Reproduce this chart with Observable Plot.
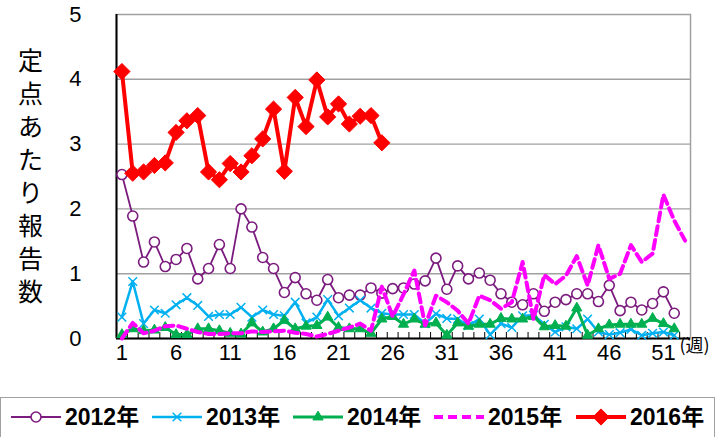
<!DOCTYPE html>
<html><head><meta charset="utf-8">
<script src="https://cdn.jsdelivr.net/npm/d3@7"></script>
<script src="https://cdn.jsdelivr.net/npm/@observablehq/plot@0.6"></script>
<style>
html,body{margin:0;padding:0;background:#fff;}
body{width:719px;height:437px;overflow:hidden;position:relative;}
#legend{position:absolute;left:0;top:397px;width:715px;height:46px;border:1px solid #a0a0a0;box-sizing:border-box;}
.item{position:absolute;top:4px;height:30px;display:flex;align-items:center;}
.item span{font-family:"Liberation Sans","Noto Sans CJK JP",sans-serif;font-weight:bold;font-size:23px;color:#000;margin-left:4px;line-height:30px;}
</style></head>
<body><div id="chart"></div><div id="legend"></div>
<script>
// ---- data ----
const seriesNames = ["2012年", "2013年", "2014年", "2015年", "2016年"];
const s2012 = [2.53,1.89,1.18,1.49,1.11,1.22,1.39,0.92,1.08,1.45,1.08,2.00,1.72,1.25,1.08,0.71,0.94,0.69,0.59,0.91,0.63,0.67,0.67,0.78,0.70,0.77,0.78,0.84,0.89,1.24,0.76,1.12,0.92,1.01,0.90,0.69,0.56,0.52,0.69,0.42,0.56,0.60,0.69,0.69,0.57,0.82,0.43,0.56,0.44,0.54,0.72,0.39];
const s2013 = [0.33,0.88,0.23,0.44,0.39,0.52,0.63,0.51,0.34,0.37,0.37,0.48,0.33,0.44,0.37,0.35,0.56,0.24,0.33,0.60,0.35,0.47,0.59,0.47,0.39,0.37,0.37,0.37,0.23,0.38,0.31,0.30,0.20,0.30,0.06,0.23,0.17,0.35,0.36,0.22,0.10,0.18,0.15,0.30,0.10,0.06,0.09,0.14,0.05,0.08,0.10,0.05];
const s2014 = [0.06,0.15,0.12,0.13,0.17,0.06,0.06,0.15,0.15,0.12,0.08,0.07,0.24,0.10,0.15,0.28,0.15,0.19,0.20,0.33,0.17,0.15,0.15,0.08,0.30,0.34,0.22,0.30,0.22,0.24,0.05,0.24,0.19,0.22,0.22,0.31,0.30,0.30,0.34,0.18,0.20,0.19,0.47,0.05,0.15,0.21,0.22,0.22,0.22,0.31,0.23,0.15];
const s2015 = [0.00,0.24,0.08,0.12,0.19,0.20,0.15,0.10,0.07,0.07,0.08,0.08,0.11,0.10,0.11,0.12,0.09,0.07,0.03,0.07,0.12,0.17,0.23,0.12,0.80,0.34,0.68,1.05,0.20,0.66,0.56,0.43,0.23,0.66,0.59,0.46,0.56,1.18,0.30,0.98,0.84,0.97,1.27,0.82,1.44,0.92,1.00,1.44,1.18,1.31,2.22,1.82,1.51];
const s2016 = [4.12,2.55,2.57,2.67,2.71,3.18,3.36,3.44,2.57,2.45,2.70,2.57,2.82,3.08,3.54,2.58,3.72,3.27,3.99,3.42,3.62,3.31,3.43,3.44,3.02];
const weekCount = 53;
const xTickLabels = [1, 6, 11, 16, 21, 26, 31, 36, 41, 46, 51];
const yTicks = [0, 1, 2, 3, 4, 5];
const yTitle = "定点あたり報告数";
const unitLabel = "(週)";

// ---- styles ----
const styles = [
  {color: "#7B1B7E", symbol: "circle", r: 5, fill: "white", sw: 1.8, dotSw: 1.6, dash: null},
  {color: "#00B0F0", symbol: "times", r: 4, fill: "none", sw: 2.5, dotSw: 1.5, dash: null},
  {color: "#00B050", symbol: "triangle", r: 3.8, fill: "#00B050", sw: 3, dotSw: 1, dash: null},
  {color: "#FF00FF", symbol: null, r: 0, fill: "none", sw: 4, dotSw: 0, dash: "9,5"},
  {color: "#FF0000", symbol: "diamond2", r: 7.3, fill: "#FF0000", sw: 4, dotSw: 1, dash: null}
];
const allValues = [s2012, s2013, s2014, s2015, s2016];
const series = seriesNames.map((name, k) => ({name, values: allValues[k], ...styles[k]}));
const rowsOf = s => s.values.map((v, i) => ({week: i + 1, value: v, name: s.name}));

const boundaries = d3.range(1, weekCount).map(w => w + 0.5);
const xDomain = [0.5, weekCount + 0.5];

const marks = [
  Plot.ruleY(yTicks.filter(t => t > yTicks[0] && t < yTicks[yTicks.length - 1]), {stroke: "#a0a0a0", strokeWidth: 1.4}),
  Plot.frame({stroke: "#a0a0a0", strokeWidth: 1.5}),
  Plot.ruleX(boundaries, {y1: 0, y2: 0, insetTop: -6, stroke: "#000", strokeWidth: 1}),
  Plot.ruleX([xDomain[0]], {stroke: "#000", strokeWidth: 2}),
  Plot.ruleY([0], {stroke: "#000", strokeWidth: 2})
];
for (const s of series) {
  const rows = rowsOf(s);
  marks.push(Plot.line(rows, {x: "week", y: "value", stroke: s.color, strokeWidth: s.sw, strokeDasharray: s.dash, strokeLinejoin: "round"}));
  if (s.symbol) {
    marks.push(Plot.dot(rows, {x: "week", y: "value", symbol: s.symbol, r: s.r, fill: s.fill, stroke: s.color, strokeWidth: s.dotSw}));
  }
}
marks.push(Plot.text([yTitle.split("").join("\n")], {text: d => d, frameAnchor: "left", dx: -86, dy: -2, fontSize: 25, lineHeight: 1.32, textAnchor: "middle", fontFamily: "Noto Sans CJK JP", fill: "#000"}));
marks.push(Plot.text([unitLabel], {text: d => d, frameAnchor: "bottom-right", dx: 4, dy: 13, fontSize: 18, textAnchor: "middle", fontFamily: "Noto Sans CJK JP", fill: "#000"}));

const chart = Plot.plot({
  width: 719,
  height: 393,
  marginLeft: 116,
  marginRight: 29,
  marginTop: 14,
  marginBottom: 55,
  style: {fontSize: "22px", fontFamily: "'Liberation Sans', Arial, sans-serif", color: "#000", background: "#fff", overflow: "visible"},
  x: {type: "linear", domain: xDomain, ticks: xTickLabels, tickSize: 0, tickPadding: 6, tickFormat: d => String(d), label: null},
  y: {domain: [yTicks[0], yTicks[yTicks.length - 1]], ticks: yTicks, tickSize: 0, tickPadding: 35, tickFormat: d => String(d), label: null},
  marks
});
document.getElementById("chart").appendChild(chart);

// ---- legend ----
const legend = d3.select("#legend");
const itemLefts = [10, 151, 292, 433, 575];
series.forEach((s, k) => {
  const item = legend.append("div").attr("class", "item").style("left", itemLefts[k] + "px");
  const svg = item.append("svg").attr("width", 50).attr("height", 20);
  svg.append("line").attr("x1", 0).attr("x2", 50).attr("y1", 10).attr("y2", 10)
    .attr("stroke", s.color).attr("stroke-width", s.sw).attr("stroke-dasharray", s.dash);
  if (s.symbol === "circle") {
    svg.append("circle").attr("cx", 25).attr("cy", 10).attr("r", s.r).attr("fill", s.fill).attr("stroke", s.color).attr("stroke-width", s.dotSw);
  } else if (s.symbol) {
    const type = {times: d3.symbolTimes, triangle: d3.symbolTriangle, diamond2: d3.symbolDiamond2}[s.symbol];
    svg.append("path").attr("transform", "translate(25,10)")
      .attr("d", d3.symbol(type, Math.PI * s.r * s.r)())
      .attr("fill", s.fill).attr("stroke", s.color).attr("stroke-width", s.dotSw);
  }
  item.append("span").text(s.name);
});
</script>
</body></html>
